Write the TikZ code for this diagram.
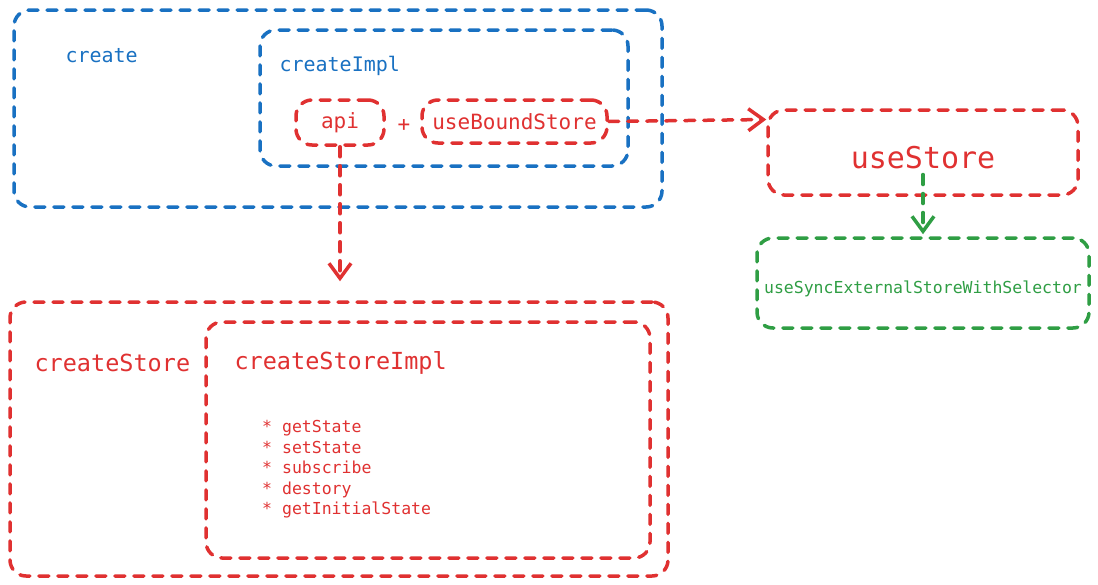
\documentclass[tikz,border=0pt]{standalone}
\usepackage{fontspec}
\usepackage{tikz}
\usetikzlibrary{arrows.meta,calc}
\newfontfamily\codefont{DejaVu Sans Mono}
\definecolor{xblue}{HTML}{1971C2}
\definecolor{xred}{HTML}{E03131}
\definecolor{xgreen}{HTML}{2F9E44}

\begin{document}
\begin{tikzpicture}[x=1pt,y=-1pt,
  sketch/.style={draw,line width=3.5pt,line cap=round,dash pattern=on 10pt off 9pt,rounded corners=16pt,inner sep=0pt},
  link/.style={line width=3.5pt,line cap=round,dash pattern=on 10pt off 9pt,-{Straight Barb[length=15pt,width=22pt,line width=3.5pt]}},
  txt/.style={font=\codefont\fontsize{#1}{#1}\selectfont}]
\fill[white] (0,0) rectangle (1098,584);

\node[sketch,xblue,minimum width=648,minimum height=197] (create) at (338,108.5) {};
\node[sketch,xblue,minimum width=368,minimum height=136] (createImpl) at (444,98) {};
\node[txt=20,xblue,anchor=west] (createLbl) at (62,56) {create};
\node[txt=20,xblue,anchor=west] (createImplLbl) at (276,66) {createImpl};

\node[sketch,xred,minimum width=88,minimum height=45,txt=21] (api) at (340,122.5) {api};
\node[txt=21,xred] (plus) at (404,125) {+};
\node[sketch,xred,minimum width=185,minimum height=43,txt=21] (bound) at (514.5,121.5) {useBoundStore};

\node[sketch,xred,minimum width=310,minimum height=85,txt=30] (ustore) at (923,152.5) {\raisebox{-5pt}[\height][\depth]{useStore}};
\node[sketch,xgreen,minimum width=332,minimum height=90,txt=16.5] (sync) at (923,283) {\raisebox{-6pt}[\height][\depth]{useSyncExternalStoreWithSelector}};

\node[sketch,xred,minimum width=658,minimum height=274] (store) at (339,439) {};
\node[sketch,xred,minimum width=444,minimum height=236] (storeImpl) at (428,440) {};
\node[txt=23.5,xred,anchor=west] (storeLbl) at (31,363) {createStore};
\node[txt=23.5,xred,anchor=west] (storeImplLbl) at (231,363) {createStoreImpl};
\node[xred,anchor=north west,align=left,inner sep=0pt,font=\codefont\fontsize{16.5}{20.6}\selectfont] (methods) at (262,420)
  {* getState\\* setState\\* subscribe\\* destory\\* getInitialState};

\coordinate (ustoreIn) at ($(ustore.west)+(0,-33)$);
\coordinate (ustoreOut) at ($(ustore.center)+(0,22)$);

\draw[link,xred,shorten >=19pt] (api.south) -- (api.south |- store.north);
\draw[link,xred] (bound.east) -- (ustoreIn);
\draw[link,xgreen,shorten >=2pt] (ustoreOut) -- (sync.north);
\end{tikzpicture}
\end{document}
